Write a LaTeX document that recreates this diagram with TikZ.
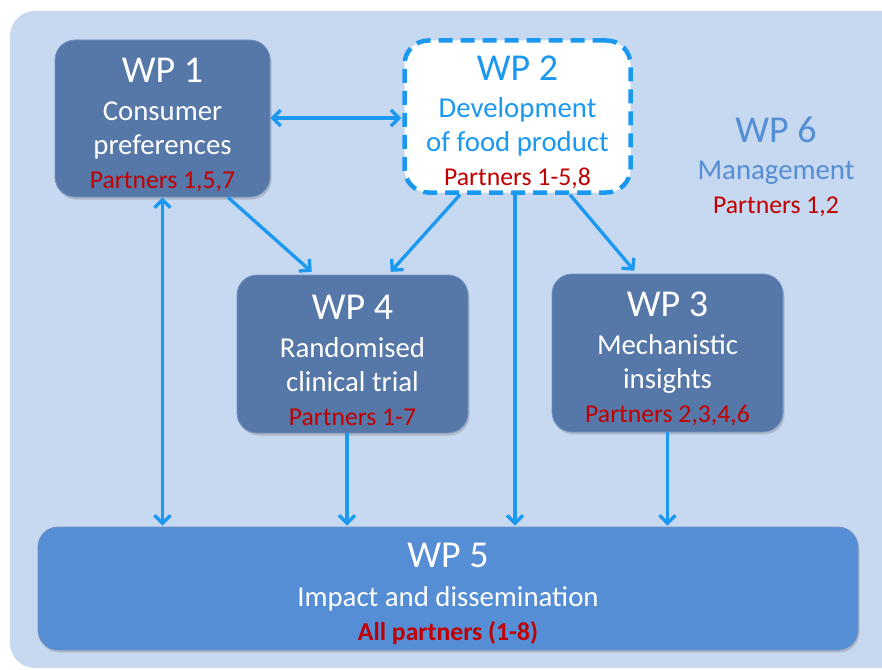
\documentclass[tikz,border=0pt]{standalone}
\usepackage{fontspec}
\setmainfont{Carlito}
\usepackage{tikz}
\usetikzlibrary{arrows.meta,calc,shadows}

\definecolor{bgblue}{RGB}{198,217,240}
\definecolor{wpdark}{RGB}{86,120,168}
\definecolor{wpedge}{RGB}{112,146,198}
\definecolor{wpmid}{RGB}{85,142,213}
\definecolor{flowblue}{RGB}{27,152,240}
\definecolor{partred}{RGB}{192,0,0}

\newcommand{\wptitle}{\fontsize{38}{38}\selectfont}
\newcommand{\wppart}{\fontsize{25.7}{26}\selectfont\color{partred}}

\begin{document}
\begin{tikzpicture}[x=1pt, y=-1pt, >={Straight Barb[length=8pt,width=16pt]},
    wpbox/.style={rectangle, rounded corners=20pt, draw=wpedge, line width=0.8pt, fill=wpdark,
        drop shadow={shadow xshift=1.5pt, shadow yshift=-2.5pt, opacity=0.35}},
    wptext/.style={align=center, text=white, font=\fontsize{28.8}{34}\selectfont},
    flow/.style={draw=flowblue, line width=3.3pt, shorten >=1pt}]

    \useasboundingbox (0,0) rectangle (882,669);
    % light background panel (runs off the right edge)
    \fill[bgblue, rounded corners=25pt] (10,11) rectangle (910,668);

    % Define the boxes
    \node[wpbox, minimum width=215pt, minimum height=157pt] (wp1) at (162.5,118.5) {};
    \node[rectangle, rounded corners=24pt, draw=flowblue, fill=white, line width=4.5pt,
        dash pattern=on 14pt off 8pt, minimum width=226pt, minimum height=152pt] (wp2) at (517.5,116.5) {};
    \node[wpbox, minimum width=231pt, minimum height=158pt] (wp4) at (352.5,354) {};
    \node[wpbox, minimum width=231pt, minimum height=158pt] (wp3) at (667.5,353) {};
    \node[wpbox, fill=wpmid, minimum width=820pt, minimum height=123pt] (wp5) at (448,588.5) {};

    % Texts of the work packages
    \node[wptext] (wp1text) at (162.5,124.5) {{\wptitle WP 1}\\[4pt]Consumer\\preferences\\{\wppart Partners 1,5,7}};
    \node[wptext, text=flowblue] (wp2text) at (517.5,122.5) {{\wptitle WP 2}\\[3pt]Development\\of food product\\{\wppart Partners 1-5,8}};
    \node[wptext] (wp4text) at (352.5,360) {{\wptitle WP 4}\\[4pt]Randomised\\clinical trial\\{\wppart Partners 1-7}};
    \node[wptext] (wp3text) at (667.5,359) {{\wptitle WP 3}\\[4pt]Mechanistic\\insights\\{\wppart Partners 2,3,4,6}};
    \node[wptext] (wp5text) at (448,593.5) {{\wptitle WP 5}\\[5pt]Impact and dissemination\\{\wppart\bfseries All partners (1-8)}};
    \node[wptext, text=wpmid] (wp6text) at (776,167) {{\wptitle WP 6}\\[3pt]Management\\{\wppart Partners 1,2}};

    % start points of the straight drops into WP 5
    \coordinate (wp2drop) at ($(wp2.south)+(-2.5,0)$);
    \coordinate (wp4drop) at ($(wp4.south)+(-5.5,0)$);

    % Arrows between the work packages
    \draw[flow, <->] (wp1.east |- 0,118) -- (wp2.west |- 0,118);
    \draw[flow, <->] (wp1.south) -- (wp1.south |- wp5.north);
    \draw[flow, ->] ($(wp1.south)+(65.5,0)$) -- ($(wp4.north)+(-40,-2)$);
    \draw[flow, ->] ($(wp2.south)+(-57.5,0)$) -- ($(wp4.north)+(37.5,-2)$);
    \draw[flow, ->] (wp2drop) -- (wp2drop |- wp5.north);
    \draw[flow, ->] ($(wp2.south)+(52.5,0)$) -- ($(wp3.north)+(-32.5,-2)$);
    \draw[flow, ->] (wp4drop) -- (wp4drop |- wp5.north);
    \draw[flow, ->] (wp3.south) -- (wp3.south |- wp5.north);
\end{tikzpicture}
\end{document}
